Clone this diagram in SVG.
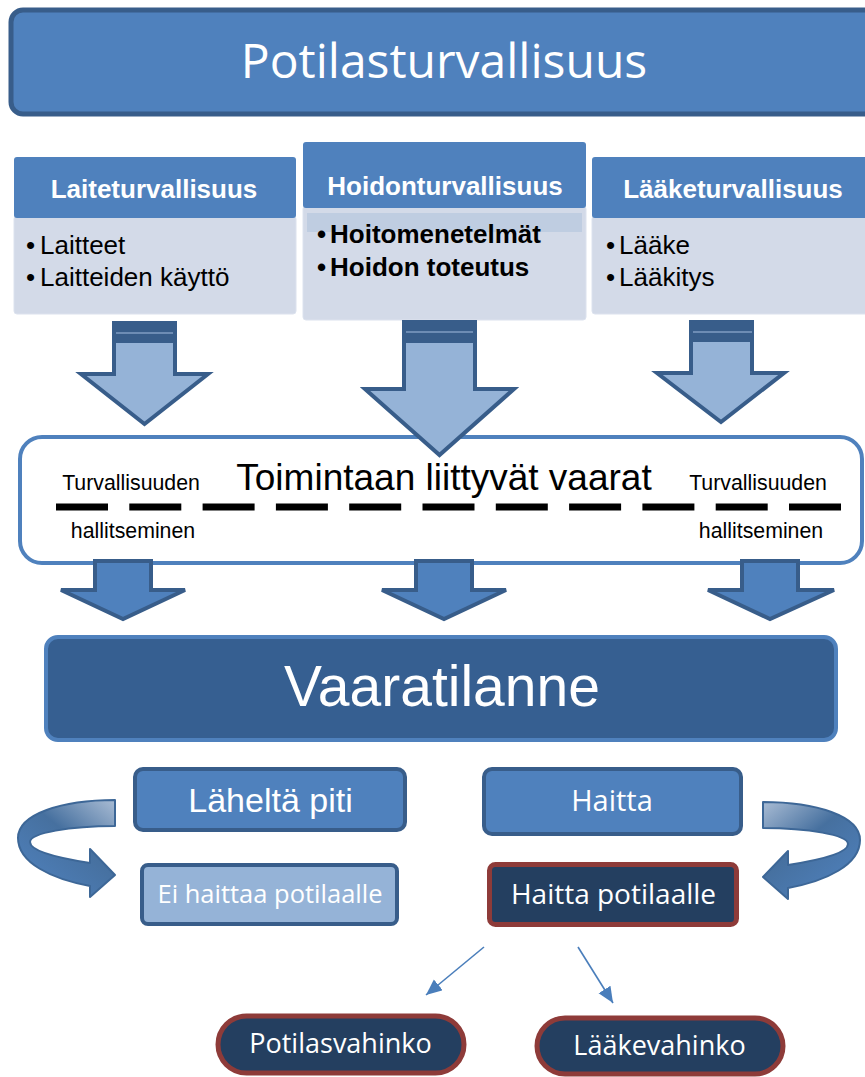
<svg xmlns="http://www.w3.org/2000/svg" width="865" height="1077" viewBox="0 0 865 1077">
<style>
.ar{font-family:"Liberation Sans",Arial,sans-serif}
.os{font-family:"Open Sans","Noto Sans",sans-serif}
.hdr{fill:#4F81BD}
.bdy{fill:#D3DAE8;stroke:#DCE2EE;stroke-width:1}
.ht{font-family:"Liberation Sans",Arial,sans-serif;font-weight:bold;font-size:26px;fill:#fff;text-anchor:middle}
.bt{font-family:"Liberation Sans",Arial,sans-serif;font-size:26px;fill:#000}
.wt{fill:#fff;text-anchor:middle}
.la{fill:#95B3D7;stroke:#385D8A;stroke-width:4;stroke-linejoin:miter}
.da{fill:#4F81BD;stroke:#385D8A;stroke-width:4;stroke-linejoin:miter}
.band{fill:#385D8A}
.bline{stroke:#7F9CC2;stroke-width:1.5}
.thin{stroke:#4A7EBB;stroke-width:1.6;fill:none}
.pill{fill:#243F60;stroke:#8E3B39;stroke-width:5}
.curv{stroke:#3D6797;stroke-width:2;stroke-linejoin:round}
</style>
<defs>
<marker id="ah" markerUnits="userSpaceOnUse" markerWidth="18" markerHeight="16" refX="16" refY="7" orient="auto">
<path d="M0,0 L16,7 L0,14 Z" fill="#4A7EBB"/>
</marker>
<linearGradient id="cg" x1="1" y1="0" x2="0.2" y2="1">
<stop offset="0" stop-color="#A9BCD4"/>
<stop offset="0.45" stop-color="#46709F"/>
<stop offset="1" stop-color="#4F81BD"/>
</linearGradient>
</defs>

<g id="potilasturvallisuus">
<rect x="11" y="10" width="870" height="104" rx="12" fill="#4F81BD" stroke="#385D8A" stroke-width="5"/>
<text class="os wt" x="444" y="78" font-size="48">Potilasturvallisuus</text>
</g>

<g id="laiteturvallisuus">
<rect class="bdy" x="14" y="216" width="282" height="98" rx="3"/>
<rect class="hdr" x="14" y="157" width="282" height="61" rx="3"/>
<text class="ht" x="154" y="198">Laiteturvallisuus</text>
<text class="bt" y="254"><tspan x="26">•</tspan><tspan x="40">Laitteet</tspan></text>
<text class="bt" y="286"><tspan x="26">•</tspan><tspan x="40">Laitteiden käyttö</tspan></text>
</g>

<g id="hoidonturvallisuus">
<rect class="bdy" x="303" y="206" width="283" height="114" rx="3"/>
<rect x="307" y="213" width="275" height="19" fill="#BFCDE1"/>
<rect class="hdr" x="303" y="142" width="283" height="66" rx="3"/>
<text class="ht" x="445" y="195">Hoidonturvallisuus</text>
<text class="bt" y="243" font-weight="bold" font-size="25"><tspan x="317">•</tspan><tspan x="330">Hoitomenetelmät</tspan></text>
<text class="bt" y="276" font-weight="bold" font-size="25"><tspan x="317">•</tspan><tspan x="330">Hoidon toteutus</tspan></text>
</g>

<g id="laaketurvallisuus">
<rect class="bdy" x="592" y="216" width="282" height="98" rx="3"/>
<rect class="hdr" x="592" y="157" width="282" height="61" rx="3"/>
<text class="ht" x="733" y="198">Lääketurvallisuus</text>
<text class="bt" y="254"><tspan x="606">•</tspan><tspan x="619">Lääke</tspan></text>
<text class="bt" y="286"><tspan x="606">•</tspan><tspan x="619">Lääkitys</tspan></text>
</g>

<g id="toimintaan">
<rect x="20" y="437" width="842" height="126" rx="22" fill="#fff" stroke="#4F81BD" stroke-width="4"/>
<text class="ar" x="444" y="490" font-size="37" text-anchor="middle">Toimintaan liittyvät vaarat</text>
<text class="ar" x="131" y="490" font-size="21.3" text-anchor="middle">Turvallisuuden</text>
<text class="ar" x="133" y="538" font-size="21.3" text-anchor="middle">hallitseminen</text>
<text class="ar" x="758" y="490" font-size="21.3" text-anchor="middle">Turvallisuuden</text>
<text class="ar" x="761" y="538" font-size="21.3" text-anchor="middle">hallitseminen</text>
<line x1="56" y1="507" x2="841" y2="507" stroke="#000" stroke-width="7" stroke-dasharray="52 21.3"/>
</g>

<g id="vaaratilanne">
<rect x="46" y="637" width="790" height="103" rx="12" fill="#365F91" stroke="#4F81BD" stroke-width="4"/>
<text class="ar wt" x="442" y="706" font-size="57">Vaaratilanne</text>
</g>

<g id="laheltapiti">
<rect x="135" y="769" width="270" height="61" rx="8" fill="#4F81BD" stroke="#385D8A" stroke-width="4"/>
<text class="ar wt" x="270.5" y="812" font-size="34">Läheltä piti</text>
</g>

<g id="haitta">
<rect x="484" y="769" width="257" height="65" rx="8" fill="#4F81BD" stroke="#385D8A" stroke-width="4"/>
<text class="os wt" x="612" y="811" font-size="29">Haitta</text>
</g>

<g id="eihaittaa">
<rect x="142" y="865" width="255" height="59" rx="6" fill="#95B3D7" stroke="#385D8A" stroke-width="4"/>
<text class="os wt" x="270" y="903" font-size="25.5">Ei haittaa potilaalle</text>
</g>

<g id="haittapotilaalle">
<rect x="489.5" y="864.5" width="247" height="60" rx="6" fill="#243F60" stroke="#8E3B39" stroke-width="5"/>
<text class="os wt" x="613.5" y="904" font-size="28">Haitta potilaalle</text>
</g>

<g id="potilasvahinko">
<rect class="pill" x="218" y="1016" width="246" height="57" rx="28.5"/>
<text class="os wt" x="340.5" y="1053" font-size="27">Potilasvahinko</text>
</g>

<g id="laakevahinko">
<rect class="pill" x="537" y="1018" width="246" height="56" rx="28"/>
<text class="os wt" x="659.5" y="1055" font-size="27">Lääkevahinko</text>
</g>

<g id="connectors">
<polygon class="la" points="114,324 175,324 175,374 208,374 144.5,424 81,374 114,374"/>
<rect class="band" x="112" y="321" width="65" height="22"/>
<line class="bline" x1="116" y1="333" x2="173" y2="333"/>

<polygon class="la" points="404,322 475,322 475,389 514,389 439.5,455 365,389 404,389"/>
<rect class="band" x="402" y="320" width="75" height="23"/>
<line class="bline" x1="406" y1="332" x2="473" y2="332"/>

<polygon class="la" points="691,322 752,322 752,373 784,373 721,422 657,373 691,373"/>
<rect class="band" x="689" y="320" width="65" height="22"/>
<line class="bline" x1="693" y1="332" x2="752" y2="332"/>

<polygon class="da" points="95,561 151,561 151,590 185,590 123,619 61,590 95,590"/>
<polygon class="da" points="416,561 472,561 472,590 506,590 444,619 382,590 416,590"/>
<polygon class="da" points="742,561 798,561 798,590 834,590 770,619 708,590 742,590"/>

<path class="curv" fill="url(#cg)" d="M115,800 C62,800 18,814 18,838 C18,863 52,879 90,886 L90,897 L115,875 L90,849 L90,863 C58,858 30,851 30,842 C30,833 70,826 115,826 Z"/>
<path class="curv" fill="url(#cg)" transform="translate(878,2) scale(-1,1)" d="M115,800 C62,800 18,814 18,838 C18,863 52,879 90,886 L90,897 L115,875 L90,849 L90,863 C58,858 30,851 30,842 C30,833 70,826 115,826 Z"/>

<line class="thin" x1="484" y1="947" x2="426" y2="995" marker-end="url(#ah)"/>
<line class="thin" x1="578" y1="947" x2="613" y2="1003" marker-end="url(#ah)"/>
</g>
</svg>
